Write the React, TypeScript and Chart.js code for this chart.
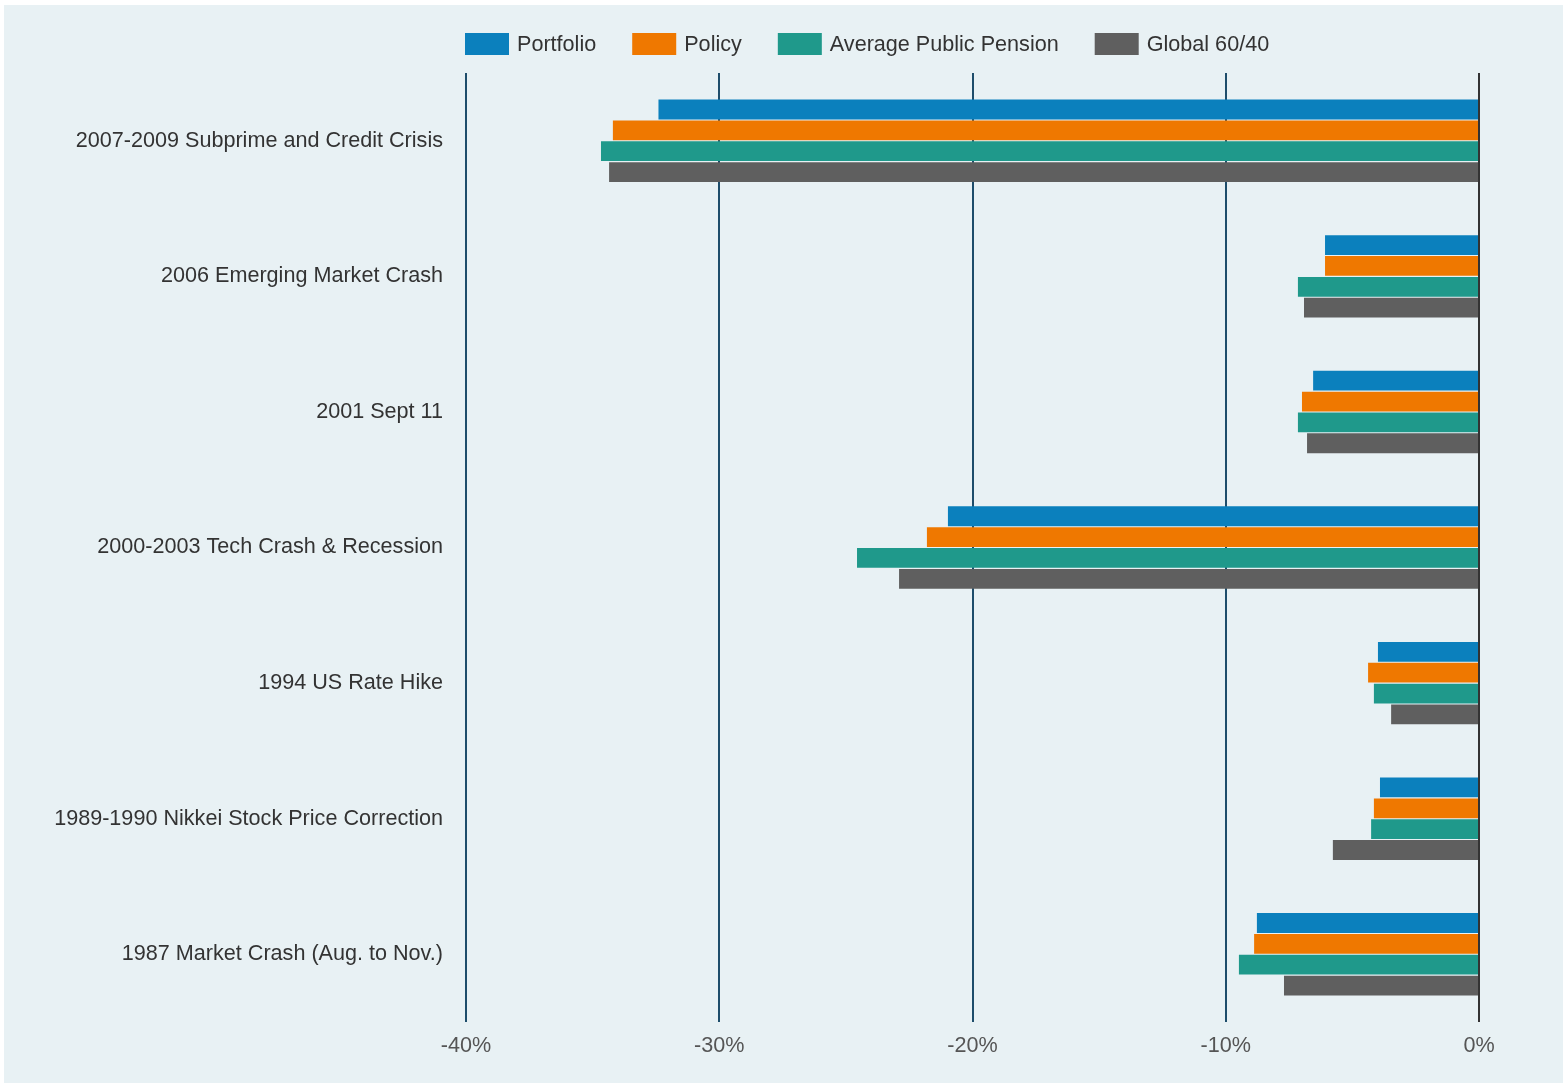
import React, { useEffect, useRef } from "react";
import { Chart, registerables } from "chart.js";

Chart.register(...registerables);

const categories = [
  "2007-2009 Subprime and Credit Crisis",
  "2006 Emerging Market Crash",
  "2001 Sept 11",
  "2000-2003 Tech Crash & Recession",
  "1994 US Rate Hike",
  "1989-1990 Nikkei Stock Price Correction",
  "1987 Market Crash (Aug. to Nov.)",
];

const portfolio = [-32.4, -6.08, -6.55, -20.97, -3.99, -3.91, -8.77];
const policy = [-34.2, -6.08, -6.99, -21.8, -4.38, -4.15, -8.88];
const avgPublicPension = [-34.67, -7.15, -7.15, -24.56, -4.15, -4.26, -9.48];
const global6040 = [-34.35, -6.91, -6.79, -22.9, -3.47, -5.77, -7.7];

const seriesNames = ["Portfolio", "Policy", "Average Public Pension", "Global 60/40"];
const seriesColors = ["#0b80bd", "#ef7800", "#1f998b", "#5f5f5f"];

const xTicks = [-40, -30, -20, -10, 0];

const FONT = "'Liberation Sans', Arial, Helvetica, sans-serif";
const FS = 21.6;

const customLegend = {
  id: "customLegend",
  afterDraw(chart: any) {
    const ctx = chart.ctx;
    ctx.save();
    ctx.font = `${FS}px ${FONT}`;
    ctx.textBaseline = "middle";
    ctx.textAlign = "left";
    let x = 461;
    const y = 28;
    const bw = 44;
    const bh = 22;
    chart.data.datasets.forEach((ds: any) => {
      ctx.fillStyle = ds.backgroundColor;
      ctx.fillRect(x, y, bw, bh);
      x += bw + 8;
      ctx.fillStyle = "#333333";
      ctx.fillText(ds.label, x, y + bh / 2 + 1);
      x += ctx.measureText(ds.label).width + 36;
    });
    ctx.restore();
  },
};

export default function App() {
  const ref = useRef<HTMLCanvasElement | null>(null);

  useEffect(() => {
    if (!ref.current) return;
    const data = [portfolio, policy, avgPublicPension, global6040];
    const chart = new Chart(ref.current, {
      type: "bar",
      data: {
        labels: categories,
        datasets: data.map((d, i) => ({
          label: seriesNames[i],
          data: d,
          backgroundColor: seriesColors[i],
          borderWidth: 0,
          barPercentage: 0.95,
          categoryPercentage: 0.615,
        })),
      },
      options: {
        indexAxis: "y",
        animation: false,
        responsive: false,
        maintainAspectRatio: false,
        layout: { padding: { top: 68, right: 84, bottom: 13, left: 0 } },
        plugins: {
          legend: { display: false },
          tooltip: { enabled: false },
          title: { display: false },
        },
        scales: {
          x: {
            min: -40,
            max: 0,
            afterBuildTicks: (scale: any) => {
              scale.ticks = xTicks.map((v) => ({ value: v }));
            },
            grid: {
              color: (c: any) => (c.tick && c.tick.value === 0 ? "#333333" : "#1e4d6b"),
              lineWidth: 2,
              drawTicks: false,
            },
            border: { display: false },
            ticks: {
              padding: 11,
              color: "#555555",
              font: { family: FONT, size: FS },
              callback: (v: any) => `${v}%`,
            },
          },
          y: {
            grid: { display: false, drawTicks: false },
            border: { display: false },
            afterFit: (scale: any) => {
              scale.width = 462;
            },
            ticks: {
              padding: 23,
              color: "#333333",
              font: { family: FONT, size: FS },
            },
          },
        },
      },
      plugins: [customLegend],
    });
    return () => chart.destroy();
  }, []);

  return (
    <div
      style={{
        position: "absolute",
        left: 4,
        top: 5,
        width: 1559,
        height: 1078,
        background: "#e8f1f4",
      }}
    >
      <canvas ref={ref} width={1559} height={1078} style={{ display: "block" }} />
    </div>
  );
}
